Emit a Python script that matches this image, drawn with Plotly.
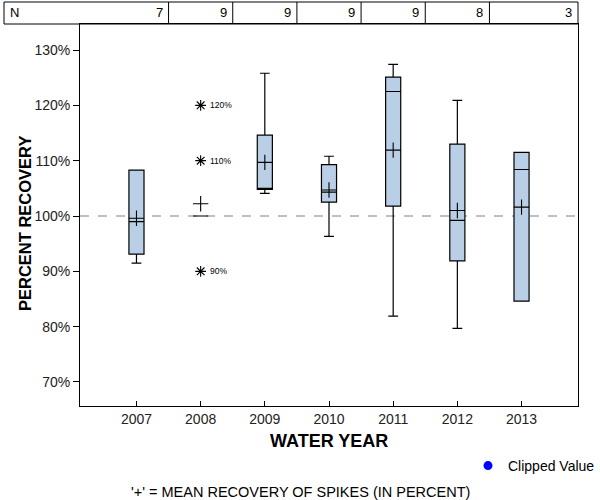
import plotly.graph_objects as go

years = [2007, 2008, 2009, 2010, 2011, 2012, 2013]
n_counts = [7, 9, 9, 9, 9, 8, 3]
q1 = [93.1, 100.0, 104.8, 102.5, 101.8, 91.9, 84.6]
median = [99.0, 100.0, 104.8, 104.3, 122.5, 99.2, 108.4]
q3 = [108.3, 100.0, 114.6, 109.3, 125.1, 113.0, 111.5]
lower = [91.5, 100.0, 104.1, 96.3, 81.9, 79.7, 84.6]
upper = [108.3, 100.0, 125.8, 110.8, 127.4, 120.9, 111.5]
means = [99.6, 102.2, 109.7, 104.7, 111.9, 101.0, 101.6]
ref_years = [2008, 2008, 2008]
ref_levels = [120, 110, 90]
ref_labels = ["120%", "110%", "90%"]
y_ticks = [70, 80, 90, 100, 110, 120, 130]
y_tick_text = ["70%", "80%", "90%", "100%", "110%", "120%", "130%"]

FONT = "Liberation Sans, Arial, sans-serif"
xmin, xmax = 2006.12, 2013.88
ymin, ymax = 65.66, 134.7

fig = go.Figure()

fig.add_trace(go.Box(
    x=years, q1=q1, median=median, q3=q3,
    lowerfence=lower, upperfence=upper,
    width=0.235, whiskerwidth=0.65,
    fillcolor="#B9CFE5", line=dict(color="black", width=1.2),
    boxpoints=False, showlegend=False, hoverinfo="skip",
))

fig.add_trace(go.Scatter(
    x=years, y=means, mode="markers",
    marker=dict(symbol="cross-thin-open", size=11, color="black",
                line=dict(color="black", width=1.1)),
    showlegend=False, hoverinfo="skip",
))

fig.add_trace(go.Scatter(
    x=ref_years, y=ref_levels, mode="markers",
    marker=dict(symbol="asterisk-open", size=9, color="black",
                line=dict(color="black", width=1.1)),
    showlegend=False, hoverinfo="skip",
))

fig.add_trace(go.Scatter(
    x=[None], y=[None], mode="markers", name="Clipped Value",
    marker=dict(symbol="circle", size=9, color="blue"),
))

for xr, yr, lab in zip(ref_years, ref_levels, ref_labels):
    fig.add_annotation(x=xr, y=yr, text=lab, showarrow=False, xanchor="left",
                       xshift=7, font=dict(family=FONT, size=8.5, color="black"))

# reference line at 100%
fig.add_shape(type="line", xref="paper", x0=0, x1=1, yref="y", y0=100, y1=100,
              line=dict(color="#808080", width=1, dash="dash"), layer="below")

# N table
top = (406 - 2) / 382
left = (4 - 80) / 498
fig.add_shape(type="rect", xref="paper", yref="paper", x0=left, x1=1, y0=1, y1=top,
              line=dict(color="black", width=1))
for i in range(len(years) - 1):
    xd = (years[i] + years[i + 1]) / 2
    fig.add_shape(type="line", xref="x", yref="paper", x0=xd, x1=xd, y0=1, y1=top,
                  line=dict(color="black", width=1))
fig.add_annotation(xref="paper", yref="paper", x=(8 - 80) / 498, y=(1 + top) / 2,
                   text="N", showarrow=False, xanchor="left", yanchor="middle",
                   font=dict(family=FONT, size=13, color="black"))
for i, (yr, n) in enumerate(zip(years, n_counts)):
    edge = yr + 0.5 if i < len(years) - 1 else xmax
    fig.add_annotation(xref="x", yref="paper", x=edge, y=(1 + top) / 2, text=str(n),
                       showarrow=False, xanchor="right", yanchor="middle", xshift=-4,
                       font=dict(family=FONT, size=13, color="black"))

# axis titles and footer
fig.add_annotation(xref="paper", yref="paper", x=(25 - 80) / 498, y=(406 - 224) / 382,
                   text="<b>PERCENT RECOVERY</b>", textangle=-90, showarrow=False,
                   xanchor="center", yanchor="middle",
                   font=dict(family=FONT, size=16.5, color="black"))
fig.add_annotation(xref="paper", yref="paper", x=(329 - 80) / 498, y=(406 - 441) / 382,
                   text="<b>WATER YEAR</b>", showarrow=False,
                   xanchor="center", yanchor="middle",
                   font=dict(family=FONT, size=18, color="black"))
fig.add_annotation(xref="paper", yref="paper", x=(300 - 80) / 498, y=(406 - 492) / 382,
                   text="'+' = MEAN RECOVERY OF SPIKES (IN PERCENT)", showarrow=False,
                   xanchor="center", yanchor="middle",
                   font=dict(family=FONT, size=14.5, color="black"))

fig.update_layout(
    width=600, height=500,
    margin=dict(l=80, r=22, t=24, b=94, autoexpand=False),
    paper_bgcolor="white", plot_bgcolor="white",
    font=dict(family=FONT, size=14, color="black"),
    showlegend=True,
    legend=dict(x=(468 - 80) / 498, y=(406 - 466) / 382, xanchor="left", yanchor="middle",
                font=dict(family=FONT, size=14, color="black"), bgcolor="rgba(0,0,0,0)",
                itemwidth=30),
    xaxis=dict(range=[xmin, xmax], tickvals=years, ticktext=[str(y) for y in years],
               ticks="inside", ticklen=5, tickcolor="black", showline=True,
               linecolor="black", linewidth=1, mirror=True, showgrid=False,
               zeroline=False, tickfont=dict(family=FONT, size=14, color="#222")),
    yaxis=dict(range=[ymin, ymax], tickvals=y_ticks, ticktext=y_tick_text,
               ticks="outside", ticklen=6, tickcolor="black", showline=True,
               linecolor="black", linewidth=1, mirror=True, showgrid=False,
               zeroline=False, tickfont=dict(family=FONT, size=14, color="#222")),
)

fig.write_html("out.html", post_script="document.body.style.margin='0';",
               config={"displayModeBar": False})
